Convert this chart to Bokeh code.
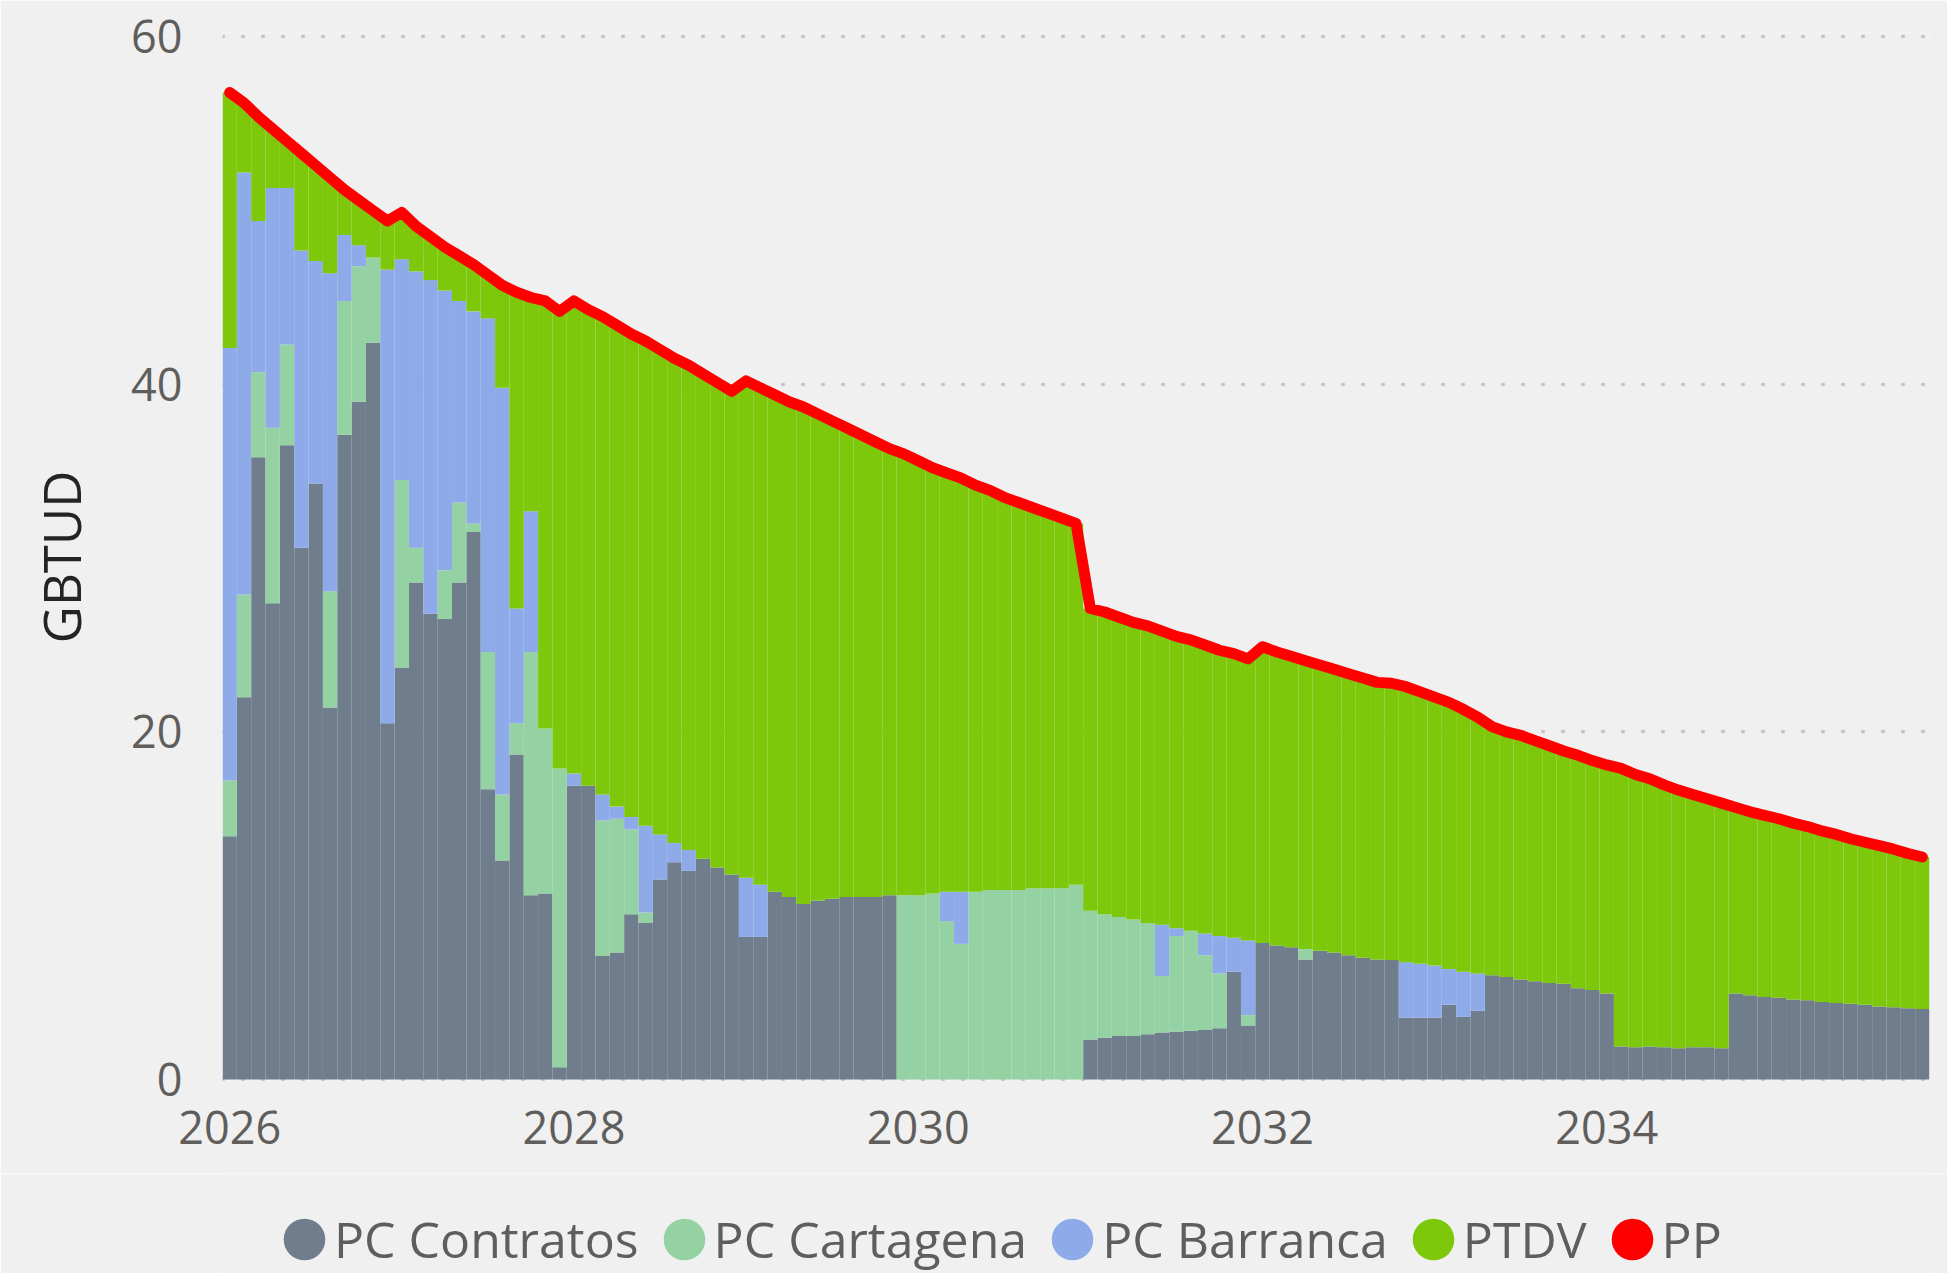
import pandas as pd
from bokeh.plotting import figure
from bokeh.layouts import column
from bokeh.models import (ColumnDataSource, Range1d, FixedTicker, Legend,
                          LegendItem, NumeralTickFormatter)
from bokeh.embed import file_html
from bokeh.resources import INLINE

# ---------------- data (GBTUD, monthly, Jan 2026 - Nov 2035) ----------------
months = pd.date_range("2026-01-01", periods=119, freq="MS")

pc_contratos = [
    14.0, 22.0, 35.8, 27.4, 36.5, 30.6, 34.3, 21.4, 37.1, 39.0, 42.4, 20.5,   # 2026
    23.7, 28.6, 26.8, 26.5, 28.6, 31.5, 16.7, 12.6, 18.7, 10.6, 10.7, 0.7,    # 2027
    16.9, 16.9, 7.1, 7.3, 9.5, 9.0, 11.5, 12.5, 12.0, 12.7, 12.2, 11.8,       # 2028
    8.2, 8.2, 10.8, 10.5, 10.1, 10.3, 10.4, 10.5, 10.5, 10.5, 10.6, 0.0,      # 2029
    0.0, 0.0, 0.0, 0.0, 0.0, 0.0, 0.0, 0.0, 0.0, 0.0, 0.0, 0.0,               # 2030
    2.3, 2.4, 2.5, 2.5, 2.6, 2.7, 2.75, 2.8, 2.85, 2.95, 6.2, 3.1,            # 2031
    7.85, 7.7, 7.6, 6.9, 7.4, 7.3, 7.15, 7.0, 6.9, 6.87, 3.55, 3.55,          # 2032
    3.55, 4.3, 3.6, 3.95, 6.0, 5.9, 5.75, 5.65, 5.55, 5.5, 5.25, 5.15,        # 2033
    4.95, 1.9, 1.85, 1.9, 1.85, 1.8, 1.85, 1.85, 1.8, 4.95, 4.85, 4.75,       # 2034
    4.7, 4.6, 4.55, 4.45, 4.4, 4.35, 4.3, 4.2, 4.15, 4.1, 4.05,               # 2035
]
pc_cartagena = [
    3.2, 5.9, 4.9, 10.1, 5.8, 0.0, 0.0, 6.7, 7.7, 7.8, 4.9, 0.0,
    10.8, 2.0, 0.0, 2.8, 4.6, 0.5, 7.9, 3.8, 1.8, 14.0, 9.5, 17.2,
    0.0, 0.0, 7.8, 7.7, 4.9, 0.6, 0.0, 0.0, 0.0, 0.0, 0.0, 0.0,
    0.0, 0.0, 0.0, 0.0, 0.0, 0.0, 0.0, 0.0, 0.0, 0.0, 0.0, 10.6,
    10.6, 10.7, 9.1, 7.8, 10.8, 10.9, 10.9, 10.9, 11.0, 11.0, 11.0, 11.2,
    7.4, 7.1, 6.85, 6.7, 6.4, 3.25, 5.5, 5.75, 4.3, 3.15, 0.0, 0.6,
    0.0, 0.0, 0.0, 0.6, 0.0, 0.0, 0.0, 0.0, 0.0, 0.0, 0.0, 0.0,
    0.0, 0.0, 0.0, 0.0, 0.0, 0.0, 0.0, 0.0, 0.0, 0.0, 0.0, 0.0,
    0.0, 0.0, 0.0, 0.0, 0.0, 0.0, 0.0, 0.0, 0.0, 0.0, 0.0, 0.0,
    0.0, 0.0, 0.0, 0.0, 0.0, 0.0, 0.0, 0.0, 0.0, 0.0, 0.0,
]
pc_barranca = [
    24.9, 24.3, 8.7, 13.8, 9.0, 17.1, 12.8, 18.3, 3.8, 1.2, 0.0, 26.1,
    12.7, 15.9, 19.2, 16.1, 11.6, 12.2, 19.2, 23.4, 6.6, 8.1, 0.0, 0.0,
    0.7, 0.0, 1.5, 0.7, 0.7, 5.0, 2.6, 1.1, 1.2, 0.0, 0.0, 0.0,
    3.4, 3.0, 0.0, 0.0, 0.0, 0.0, 0.0, 0.0, 0.0, 0.0, 0.0, 0.0,
    0.0, 0.0, 1.7, 3.0, 0.0, 0.0, 0.0, 0.0, 0.0, 0.0, 0.0, 0.0,
    0.0, 0.0, 0.0, 0.0, 0.0, 2.95, 0.45, 0.0, 1.25, 2.15, 1.95, 4.3,
    0.0, 0.0, 0.0, 0.0, 0.0, 0.0, 0.0, 0.0, 0.0, 0.0, 3.2, 3.1,
    3.0, 2.05, 2.6, 2.15, 0.0, 0.0, 0.0, 0.0, 0.0, 0.0, 0.0, 0.0,
    0.0, 0.0, 0.0, 0.0, 0.0, 0.0, 0.0, 0.0, 0.0, 0.0, 0.0, 0.0,
    0.0, 0.0, 0.0, 0.0, 0.0, 0.0, 0.0, 0.0, 0.0, 0.0, 0.0,
]
ptdv = [
    14.7, 4.0, 6.0, 3.4, 2.7, 5.6, 5.5, 5.5, 2.6, 2.6, 2.7, 2.8,
    2.7, 2.6, 2.5, 2.5, 2.6, 2.7, 2.5, 5.9, 18.2, 12.3, 24.6, 26.3,
    27.2, 27.4, 27.5, 27.7, 27.8, 27.9, 27.9, 27.9, 27.9, 27.9, 27.9, 27.8,
    28.6, 28.6, 28.6, 28.5, 28.6, 28.0, 27.5, 27.0, 26.6, 26.2, 25.7, 25.4,
    25.0, 24.5, 24.1, 23.8, 23.4, 23.0, 22.6, 22.3, 21.9, 21.6, 21.3, 20.8,
    17.4, 17.4, 17.25, 17.1, 17.1, 16.9, 16.8, 16.75, 16.6, 16.45, 16.35, 16.2,
    17.05, 16.9, 16.75, 16.6, 16.45, 16.3, 16.2, 16.1, 15.95, 15.93, 15.85, 15.65,
    15.45, 15.35, 15.1, 14.75, 14.3, 14.1, 14.05, 13.85, 13.65, 13.4, 13.4, 13.2,
    13.15, 16.0, 15.7, 15.4, 15.1, 14.85, 14.55, 14.3, 14.1, 10.7, 10.55, 10.45,
    10.3, 10.15, 10.0, 9.85, 9.7, 9.5, 9.35, 9.25, 9.1, 8.9, 8.75,
]
pp = [
    56.8, 56.2, 55.4, 54.7, 54.0, 53.3, 52.6, 51.9, 51.2, 50.6, 50.0, 49.4,
    49.9, 49.1, 48.5, 47.9, 47.4, 46.9, 46.3, 45.7, 45.3, 45.0, 44.8, 44.2,
    44.8, 44.3, 43.9, 43.4, 42.9, 42.5, 42.0, 41.5, 41.1, 40.6, 40.1, 39.6,
    40.2, 39.8, 39.4, 39.0, 38.7, 38.3, 37.9, 37.5, 37.1, 36.7, 36.3, 36.0,
    35.6, 35.2, 34.9, 34.6, 34.2, 33.9, 33.5, 33.2, 32.9, 32.6, 32.3, 32.0,
    27.1, 26.9, 26.6, 26.3, 26.1, 25.8, 25.5, 25.3, 25.0, 24.7, 24.5, 24.2,
    24.9, 24.6, 24.35, 24.1, 23.85, 23.6, 23.35, 23.1, 22.85, 22.8, 22.6, 22.3,
    22.0, 21.7, 21.3, 20.85, 20.3, 20.0, 19.8, 19.5, 19.2, 18.9, 18.65, 18.35,
    18.1, 17.9, 17.55, 17.3, 16.95, 16.65, 16.4, 16.15, 15.9, 15.65, 15.4, 15.2,
    15.0, 14.75, 14.55, 14.3, 14.1, 13.85, 13.65, 13.45, 13.25, 13.0, 12.8,
]

series_names = ["PC Contratos", "PC Cartagena", "PC Barranca", "PTDV", "PP"]
series_colors = ["#6F7D8C", "#94D2A3", "#8FAAE8", "#7DC80B", "#FF0000"]
year_ticks = [2026, 2028, 2030, 2032, 2034]
y_ticks = [0, 20, 40, 60]

# ---------------- main chart ----------------
x = [d.year + (d.month - 1) / 12 for d in months]
src = ColumnDataSource(dict(x=x, g=pc_contratos, c=pc_cartagena,
                            b=pc_barranca, t=ptdv, pp=pp))

BG = "#F0F0F0"
FONT = "Open Sans"
p = figure(frame_width=1707, frame_height=1049,
           x_range=Range1d(x[0] - 1 / 24, x[-1] + 1 / 24),
           y_range=Range1d(-0.12, 60.25),
           output_backend="svg", toolbar_location=None,
           min_border_left=222, min_border_right=18,
           min_border_top=32, min_border_bottom=92,
           background_fill_color=BG, border_fill_color=BG,
           outline_line_color=None)

p.vbar_stack(["g", "c", "b", "t"], x="x", width=1 / 12, source=src,
             fill_color=series_colors[:4], line_color=None)
p.line("x", "pp", source=src, line_color=series_colors[4], line_width=11,
       line_join="round", line_cap="round")

p.xaxis.ticker = FixedTicker(ticks=year_ticks)
p.xaxis.formatter = NumeralTickFormatter(format="0")
p.yaxis.ticker = FixedTicker(ticks=y_ticks)
for ax in (p.xaxis, p.yaxis):
    ax.axis_line_color = None
    ax.major_tick_line_color = None
    ax.minor_tick_line_color = None
    ax.major_tick_out = 0
    ax.major_tick_in = 0
    ax.major_label_text_font = FONT
    ax.major_label_text_font_size = "45px"
    ax.major_label_text_color = "#605E5C"
p.xaxis.major_label_standoff = 29
p.yaxis.major_label_standoff = 40
p.yaxis.axis_label = "GBTUD"
p.yaxis.axis_label_text_font = FONT
p.yaxis.axis_label_text_font_size = "51px"
p.yaxis.axis_label_text_font_style = "normal"
p.yaxis.axis_label_text_color = "#252423"
p.yaxis.axis_label_standoff = 32

p.xgrid.visible = False
p.ygrid.grid_line_color = "#C8C6C4"
p.ygrid.grid_line_width = 3.5
p.ygrid.grid_line_dash = "1 19"
p.ygrid.grid_line_cap = "round"

# ---------------- legend strip below the chart ----------------
lg = figure(width=1947, height=100, x_range=Range1d(0, 1), y_range=Range1d(0, 1),
            x_axis_location=None, y_axis_location=None,
            output_backend="svg", toolbar_location=None,
            min_border=0, min_border_left=0, min_border_right=0,
            min_border_top=0, min_border_bottom=0,
            background_fill_color=BG, border_fill_color=BG,
            outline_line_color=None)
lg.grid.visible = False

items = []
for name, col in zip(series_names, series_colors):
    # swatch renderer: same data, lies outside this strip's ranges (never drawn)
    r = lg.ellipse(x="x", y="pp", source=src, width=0.01, height=0.01,
                   width_units="screen", height_units="screen",
                   fill_color=col, line_alpha=0)
    items.append(LegendItem(label=name, renderers=[r], index=0))
legend = Legend(items=items, orientation="horizontal", location=(56, 0),
                glyph_width=52, glyph_height=52, label_standoff=4,
                spacing=19, padding=0, margin=0,
                background_fill_alpha=0, border_line_alpha=0,
                label_text_font=FONT, label_text_font_size="50px",
                label_text_color="#605E5C")
lg.add_layout(legend)

layout = column(p, lg, spacing=0)
open("out.html", "w").write(file_html(layout, INLINE))
